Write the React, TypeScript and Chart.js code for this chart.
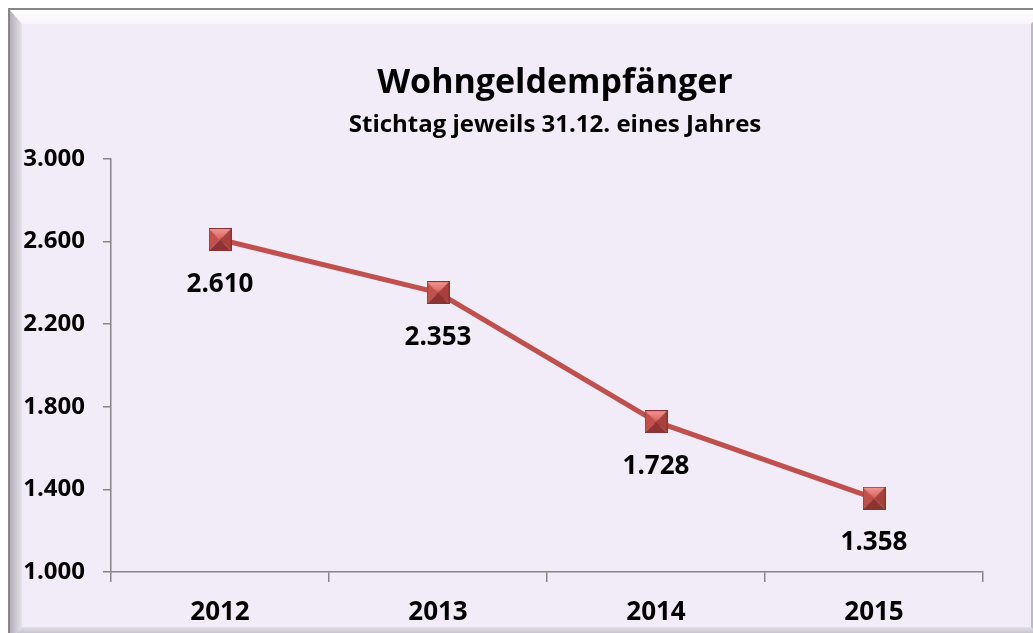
import React, { useEffect, useRef } from "react";
import { Chart, registerables } from "chart.js";

Chart.register(...registerables);

const categories = ["2012", "2013", "2014", "2015"];
const values = [2610, 2353, 1728, 1358];
const yMin = 1000;
const yMax = 3000;
const yStep = 400;
const titleText = "Wohngeldempfänger";
const subtitleText = "Stichtag jeweils 31.12. eines Jahres";

const FONT = '"Open Sans", "Noto Sans", sans-serif';
const W = 1025;
const H = 625;

function fmt(v: number): string {
  const s = Math.round(v).toString();
  return s.replace(/\B(?=(\d{3})+(?!\d))/g, ".");
}

function makeMarker(): HTMLCanvasElement {
  const s = 23;
  const c = document.createElement("canvas");
  c.width = s;
  c.height = s;
  const g = c.getContext("2d")!;
  const m = s / 2;
  const tri = (pts: number[][], fill: string | CanvasGradient) => {
    g.beginPath();
    g.moveTo(pts[0][0], pts[0][1]);
    for (let i = 1; i < pts.length; i++) g.lineTo(pts[i][0], pts[i][1]);
    g.closePath();
    g.fillStyle = fill;
    g.fill();
  };
  const top = g.createLinearGradient(0, 0, 0, m);
  top.addColorStop(0, "#F39A95");
  top.addColorStop(1, "#D9625E");
  tri([[0, 0], [s, 0], [m, m]], top);
  tri([[0, 0], [m, m], [0, s]], "#C4504C");
  tri([[s, 0], [s, s], [m, m]], "#A8403D");
  tri([[0, s], [m, m], [s, s]], "#8E3331");
  g.strokeStyle = "#8A3331";
  g.lineWidth = 1;
  g.strokeRect(0.5, 0.5, s - 1, s - 1);
  return c;
}

const framePlugin = {
  id: "frame",
  beforeDraw(chart: any) {
    const ctx = chart.ctx as CanvasRenderingContext2D;
    const OW = 1037, OH = 633;
    const il = 14, it = 16, ir = 1023, ib = 619;
    ctx.save();
    ctx.fillStyle = "#F1ECF8";
    ctx.fillRect(0, 0, W, H);
    const poly = (pts: number[][], fill: string | CanvasGradient) => {
      ctx.beginPath();
      ctx.moveTo(pts[0][0], pts[0][1]);
      for (let i = 1; i < pts.length; i++) ctx.lineTo(pts[i][0], pts[i][1]);
      ctx.closePath();
      ctx.fillStyle = fill;
      ctx.fill();
    };
    const gt = ctx.createLinearGradient(0, 0, 0, it);
    gt.addColorStop(0, "#FFFFFF");
    gt.addColorStop(1, "#F8F5FC");
    poly([[0, 0], [OW, 0], [ir, it], [il, it]], gt);
    const gl = ctx.createLinearGradient(0, 0, il, 0);
    gl.addColorStop(0, "#A9A7AD");
    gl.addColorStop(1, "#E6E2EA");
    poly([[0, 0], [il, it], [il, ib], [0, OH]], gl);
    const gb = ctx.createLinearGradient(0, ib, 0, OH);
    gb.addColorStop(0, "#E2DEE6");
    gb.addColorStop(1, "#A4A2A8");
    poly([[0, OH], [il, ib], [ir, ib], [OW, OH]], gb);
    poly([[OW, 0], [ir, it], [ir, ib], [OW, OH]], "#BDB9C1");
    ctx.fillStyle = "#878787";
    ctx.fillRect(0, 0, W, 2);
    ctx.fillRect(0, 0, 2, H);
    ctx.restore();
  },
  afterDraw(chart: any) {
    const ctx = chart.ctx as CanvasRenderingContext2D;
    ctx.save();
    ctx.fillStyle = "#000000";
    ctx.textAlign = "center";
    ctx.textBaseline = "alphabetic";
    ctx.font = `bold 34px ${FONT}`;
    ctx.fillText(titleText, 547, 85);
    ctx.font = `bold 24px ${FONT}`;
    ctx.fillText(subtitleText, 547, 124);
    const meta = chart.getDatasetMeta(0);
    ctx.font = `bold 26px ${FONT}`;
    meta.data.forEach((pt: any, i: number) => {
      ctx.fillText(fmt(values[i]), pt.x, pt.y + 52);
    });
    ctx.restore();
  },
};

export default function App() {
  const ref = useRef<HTMLCanvasElement | null>(null);
  useEffect(() => {
    if (!ref.current) return;
    const marker = makeMarker();
    const chart = new Chart(ref.current, {
      type: "line",
      data: {
        labels: categories,
        datasets: [
          {
            data: values,
            borderColor: "#C0504D",
            borderWidth: 5,
            pointStyle: marker as any,
            pointRadius: 12,
            pointHoverRadius: 12,
            tension: 0,
            clip: false as any,
          },
        ],
      },
      options: {
        responsive: false,
        animation: false,
        events: [],
        layout: { padding: { left: 4, right: 50, top: 151, bottom: 0 } },
        plugins: {
          legend: { display: false },
          title: { display: false },
          tooltip: { enabled: false },
        },
        scales: {
          x: {
            offset: true,
            afterFit: (s: any) => {
              s.height = 61;
            },
            grid: {
              offset: true,
              drawOnChartArea: false,
              drawTicks: true,
              tickLength: 10,
              color: "#868686",
              lineWidth: 1.5,
            },
            border: { color: "#868686", width: 1.5 },
            ticks: {
              color: "#000000",
              font: { family: FONT, size: 26, weight: "bold" },
              padding: 15,
            },
          },
          y: {
            min: yMin,
            max: yMax,
            afterFit: (s: any) => {
              s.width = 99;
            },
            grid: {
              drawOnChartArea: false,
              drawTicks: true,
              tickLength: 8,
              color: "#868686",
              lineWidth: 1.5,
            },
            border: { color: "#868686", width: 1.5 },
            ticks: {
              stepSize: yStep,
              color: "#000000",
              font: { family: FONT, size: 24, weight: "bold" },
              padding: 18,
              callback: (v: any) => fmt(Number(v)),
            },
          },
        },
      },
      plugins: [framePlugin],
    });
    return () => chart.destroy();
  }, []);
  return (
    <div style={{ position: "fixed", left: 8, top: 8, width: W, height: H }}>
      <canvas ref={ref} width={W} height={H} style={{ width: W, height: H, display: "block" }} />
    </div>
  );
}
